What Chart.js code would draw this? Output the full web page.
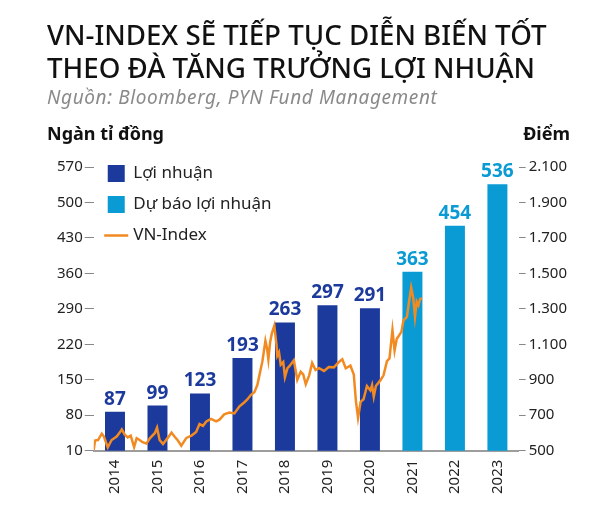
<!DOCTYPE html>
<html>
<head>
<meta charset="utf-8">
<script src="https://cdn.jsdelivr.net/npm/chart.js@4.4.1/dist/chart.umd.min.js"></script>
<style>
  body { margin: 0; background: #fff; }
  #wrap { position: relative; width: 600px; height: 524px; font-family: 'Noto Sans', sans-serif; }
  #myChart { position: absolute; left: 0; top: 0; }
  #title { position: absolute; left: 47px; top: 18px; font-size: 27.7px; font-weight: 500; line-height: 33px; color: #111; white-space: nowrap; }
  #source { position: absolute; left: 47px; top: 84px; font-size: 19px; letter-spacing: 0.6px; font-style: italic; color: #8a8a8a; white-space: nowrap; }
  .unit { position: absolute; top: 121px; font-size: 18px; font-weight: bold; color: #111; }
  #unitLeft { left: 47px; }
  #unitRight { right: 30px; }
</style>
</head>
<body>
<div id="wrap">
  <canvas id="myChart" width="600" height="524"></canvas>
  <div id="title">VN-INDEX SẼ TIẾP TỤC DIỄN BIẾN TỐT<br>THEO ĐÀ TĂNG TRƯỞNG LỢI NHUẬN</div>
  <div id="source">Nguồn: Bloomberg, PYN Fund Management</div>
  <div class="unit" id="unitLeft">Ngàn tỉ đồng</div>
  <div class="unit" id="unitRight">Điểm</div>
</div>
<script>
const years = ['2014', '2015', '2016', '2017', '2018', '2019', '2020', '2021', '2022', '2023'];
const profit = [87, 99, 123, 193, 263, 297, 291, null, null, null];
const forecast = [null, null, null, null, null, null, null, 363, 454, 536];

// VN-Index, time as fractional year
const vnTime = [
  2014.00, 2014.03, 2014.10, 2014.19, 2014.24, 2014.33, 2014.42, 2014.54, 2014.62, 2014.66,
  2014.73, 2014.80, 2014.87, 2014.95, 2015.01, 2015.08, 2015.15, 2015.24, 2015.32, 2015.44,
  2015.49, 2015.55, 2015.63, 2015.75, 2015.83, 2015.90, 2015.98, 2016.06, 2016.18, 2016.30,
  2016.41, 2016.49, 2016.57, 2016.65, 2016.76, 2016.88, 2016.96, 2017.07, 2017.19, 2017.31,
  2017.43, 2017.54, 2017.62, 2017.70, 2017.78, 2017.85, 2017.92, 2017.97, 2018.04, 2018.08,
  2018.11, 2018.15, 2018.19, 2018.25, 2018.30, 2018.32, 2018.36, 2018.40, 2018.46, 2018.50,
  2018.56, 2018.60, 2018.71, 2018.79, 2018.87, 2018.93, 2018.99, 2019.07, 2019.14, 2019.22,
  2019.30, 2019.42, 2019.53, 2019.65, 2019.77, 2019.85, 2019.93, 2020.04, 2020.12, 2020.17,
  2020.22, 2020.28, 2020.35, 2020.43, 2020.51, 2020.55, 2020.59, 2020.64, 2020.74, 2020.82,
  2020.90, 2020.96, 2021.03, 2021.08, 2021.13, 2021.24, 2021.29, 2021.37, 2021.42, 2021.47,
  2021.52, 2021.56, 2021.60, 2021.64, 2021.68, 2021.72
];
const vnValue = [
  505, 557, 560, 596, 580, 519, 560, 580, 605, 620,
  590, 575, 585, 520, 570, 560, 548, 540, 570, 600,
  630, 560, 538, 575, 602, 580, 557, 528, 572, 585,
  605, 650, 640, 665, 679, 665, 675, 705, 715, 710,
  750, 772, 790, 815, 830, 870, 950, 1005, 1120, 1075,
  1015, 1110, 1160, 1205, 1100, 1035, 1055, 985, 1000, 915,
  965, 975, 1010, 900, 945, 930, 875, 925, 995, 955,
  965, 950, 972, 970, 1000, 1015, 965, 980, 930, 780,
  685, 775, 790, 865, 840, 870, 805, 865, 895, 925,
  1005, 1020, 1180, 1065, 1130, 1170, 1235, 1255, 1340, 1420,
  1360, 1255, 1340, 1320, 1355, 1360
];

const leftTicks = [10, 80, 150, 220, 290, 360, 430, 500, 570];
const rightTicks = [500, 700, 900, 1100, 1300, 1500, 1700, 1900, 2100];

const darkBlue = '#1c3a9c';
const lightBlue = '#0a9ad4';
const orange = '#f28a22';
const fontFamily = "'Noto Sans', sans-serif";

const barLabels = {
  id: 'barLabels',
  afterDatasetsDraw(chart) {
    const ctx = chart.ctx;
    ctx.save();
    ctx.font = 'bold 19px ' + fontFamily;
    ctx.textAlign = 'center';
    ctx.textBaseline = 'bottom';
    chart.data.datasets.forEach((ds, di) => {
      if (ds.type === 'line') return;
      const meta = chart.getDatasetMeta(di);
      ctx.fillStyle = ds.backgroundColor;
      meta.data.forEach((bar, i) => {
        const v = ds.data[i];
        if (v == null) return;
        ctx.fillText(v, bar.x, bar.y - 3);
      });
    });
    ctx.restore();
  }
};

// vertical legend in chartArea gets top = 0, put it back near the top of the plot
const legendNudge = {
  id: 'legendNudge',
  afterLayout(chart) {
    const lg = chart.legend;
    if (!lg) return;
    lg.top = chart.chartArea.top - 16;
    lg.bottom = lg.top + chart.chartArea.height;
  }
};

const dotThousands = v => String(v).replace(/\B(?=(\d{3})+(?!\d))/g, '.');

const ctx = document.getElementById('myChart').getContext('2d');

const config = {
  type: 'bar',
  data: {
    labels: years,
    datasets: [{
      label: 'Lợi nhuận',
      data: profit,
      backgroundColor: darkBlue,
      pointStyle: 'rect',
      grouped: false,
      categoryPercentage: 1,
      barPercentage: 0.47,
      xAxisID: 'x',
      yAxisID: 'y'
    }, {
      label: 'Dự báo lợi nhuận',
      data: forecast,
      backgroundColor: lightBlue,
      pointStyle: 'rect',
      grouped: false,
      categoryPercentage: 1,
      barPercentage: 0.47,
      xAxisID: 'x',
      yAxisID: 'y'
    }, {
      type: 'line',
      label: 'VN-Index',
      data: vnTime.map((t, i) => ({x: t, y: vnValue[i]})),
      borderColor: orange,
      backgroundColor: orange,
      borderWidth: 2.5,
      pointRadius: 0,
      pointStyle: 'line',
      tension: 0,
      order: -1,
      xAxisID: 'x2',
      yAxisID: 'y2'
    }]
  },
  options: {
    responsive: false,
    animation: false,
    layout: { padding: { top: 167, left: 55, right: 30, bottom: 21 } },
    plugins: {
      tooltip: { enabled: false },
      legend: {
        position: 'chartArea',
        align: 'start',
        labels: {
          usePointStyle: true,
          boxWidth: 17,
          boxHeight: 17,
          padding: 14,
          color: '#222',
          font: { size: 17, family: fontFamily },
          sort: (a, b) => a.datasetIndex - b.datasetIndex
        }
      }
    },
    scales: {
      x: {
        type: 'category',
        offset: true,
        grid: { display: true, drawOnChartArea: false, drawTicks: false },
        border: { display: true, color: '#9d9d9d', width: 2 },
        ticks: {
          autoSkip: false, minRotation: 90, maxRotation: 90, padding: 9,
          color: '#222', font: { size: 15, family: fontFamily }
        }
      },
      x2: {
        type: 'linear',
        display: false,
        offset: false,
        position: 'bottom',
        min: 2014,
        max: 2024
      },
      y: {
        position: 'left',
        min: leftTicks[0],
        max: leftTicks[leftTicks.length - 1],
        grid: { drawOnChartArea: false, tickLength: 9, color: '#888' },
        border: { display: false },
        ticks: {
          stepSize: leftTicks[1] - leftTicks[0], padding: 2,
          color: '#222', font: { size: 15, family: fontFamily }
        }
      },
      y2: {
        position: 'right',
        min: rightTicks[0],
        max: rightTicks[rightTicks.length - 1],
        grid: { drawOnChartArea: false, tickLength: 7, color: '#888' },
        border: { display: false },
        ticks: {
          stepSize: rightTicks[1] - rightTicks[0], padding: 3,
          color: '#222', font: { size: 15, family: fontFamily },
          callback: v => dotThousands(v)
        }
      }
    }
  },
  plugins: [barLabels, legendNudge]
};

window.vnChart = new Chart(ctx, config);
</script>
</body>
</html>
